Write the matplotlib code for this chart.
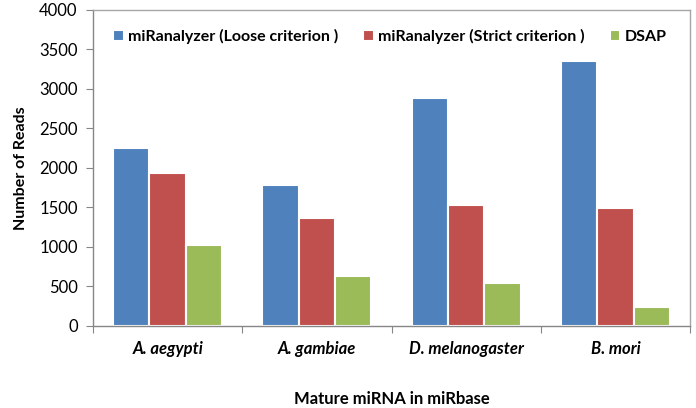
import numpy as np
import matplotlib
matplotlib.use('Agg')
import matplotlib.pyplot as plt

categories = ['A. aegypti', 'A. gambiae', 'D. melanogaster', 'B. mori']
series_names = ['miRanalyzer (Loose criterion )', 'miRanalyzer (Strict criterion )', 'DSAP']
loose = [2250, 1780, 2890, 3350]
strict = [1940, 1370, 1530, 1490]
dsap = [1030, 630, 540, 240]
colors = ['#4F81BD', '#C0504D', '#9BBB59']
yticks = [0, 500, 1000, 1500, 2000, 2500, 3000, 3500, 4000]

plt.rcParams['font.family'] = ['Lato', 'DejaVu Sans']

fig = plt.figure(figsize=(6.96, 4.08), dpi=100)
ax = fig.add_axes([0.1336, 0.201, 0.8578, 0.7745])

x = np.arange(len(categories))
step = 0.244
width = 0.244
for i, (vals, name) in enumerate(zip([loose, strict, dsap], series_names)):
    ax.bar(x + (i - 1) * step, vals, width, color=colors[i], label=name,
           edgecolor='white', linewidth=1.5)

ax.set_xlim(-0.5, len(categories) - 0.5)
ax.set_ylim(0, 4000)
ax.set_yticks(yticks)
ax.set_yticklabels([str(v) for v in yticks], fontsize=12)

# category labels between boundary ticks
ax.set_xticks(np.arange(-0.5, len(categories)), minor=False)
ax.set_xticklabels([])
ax.set_xticks(x, minor=True)
ax.set_xticklabels(categories, minor=True, fontsize=12, fontweight='bold', style='italic')
ax.tick_params(axis='x', which='minor', length=0, pad=11)
ax.tick_params(axis='x', which='major', length=5, color='#868686')
ax.tick_params(axis='y', length=5, color='#868686', pad=6)

for side in ['left', 'bottom', 'top', 'right']:
    ax.spines[side].set_color('#A6A6A6')
    ax.spines[side].set_linewidth(1.0)
ax.spines['left'].set_color('#868686')
ax.spines['bottom'].set_color('#868686')

ax.set_ylabel('Number of Reads', fontsize=11.5, fontweight='bold', labelpad=8)
ax.set_xlabel('Mature miRNA in miRbase', fontsize=12, fontweight='bold', labelpad=24)

ax.legend(loc='upper center', bbox_to_anchor=(0.497, 0.985), ncol=3, frameon=False,
          prop={'weight': 'bold', 'size': 11.5}, handlelength=0.65, handleheight=0.65,
          handletextpad=0.25, columnspacing=1.6)

plt.savefig('out.png', dpi=100)
